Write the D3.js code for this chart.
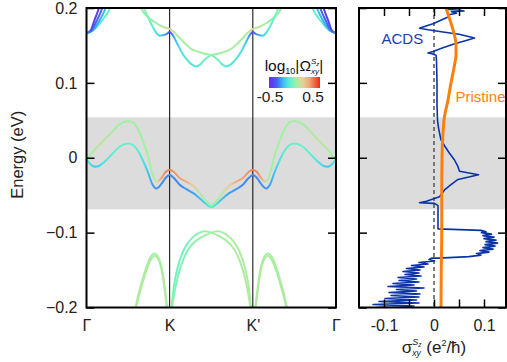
<!DOCTYPE html>
<html><head><meta charset="utf-8">
<script src="https://cdn.jsdelivr.net/npm/d3@7"></script>
<style>body{margin:0;background:#fff}svg{display:block;font-family:"Liberation Sans",Arial,sans-serif}</style>
</head><body><svg id="c" width="507" height="362"></svg>
<script>
// ---------------- DATA ----------------
const kTicks = [0, 1, 2, 3];
const kLabels = ["Γ", "K", "K'", "Γ"];
const energyTicks = [-0.2, -0.1, 0, 0.1, 0.2];
const sigmaTicks = [-0.1, -0.05, 0, 0.05, 0.1];
const sigmaLabels = {"-0.1": "-0.1", "0": "0", "0.1": "0.1"};
const gapWindow = [-0.069, 0.054];
const cbarTicks = [-0.5, 0.5];

// bands: [k, E (eV), log10|Omega|]
const bandG1 = [[0,0.1665,-0.25],[0.05,0.170,-0.4],[0.09,0.182,-0.45],[0.15,0.200,-0.45],[0.2,0.22,-0.45]];
const bandG2 = [[0,0.1665,-0.25],[0.06,0.170,-0.32],[0.118,0.182,-0.35],[0.19,0.200,-0.35],[0.24,0.22,-0.35]];
const bandG3 = [[0,0.1665,-0.25],[0.07,0.170,-0.25],[0.15,0.182,-0.25],[0.231,0.200,-0.22],[0.29,0.22,-0.22]];
const bandG4 = [[0,0.1665,-0.22],[0.08,0.170,-0.15],[0.178,0.182,-0.1],[0.283,0.200,-0.08],[0.34,0.22,-0.08]];
const bandH1 = [[2.8,0.22,-0.45],[2.85,0.200,-0.45],[2.91,0.182,-0.45],[2.95,0.170,-0.4],[3,0.1665,-0.25]];
const bandH2 = [[2.76,0.22,-0.35],[2.81,0.200,-0.35],[2.882,0.182,-0.35],[2.94,0.170,-0.32],[3,0.1665,-0.25]];
const bandH3 = [[2.71,0.22,-0.22],[2.769,0.200,-0.22],[2.85,0.182,-0.25],[2.93,0.170,-0.25],[3,0.1665,-0.25]];
const bandH4 = [[2.66,0.22,-0.08],[2.717,0.200,-0.08],[2.822,0.182,-0.1],[2.92,0.170,-0.15],[3,0.1665,-0.22]];

const bandCA = [[0.64,0.21,0.0],[0.66,0.2,0.0],[0.72,0.19,0.0],[0.76,0.186,0.0],[0.82,0.181,0.02],[0.88,0.177,0.05],[0.94,0.174,0.1],[1.0,0.172,0.17],[1.06,0.167,0.08],[1.12,0.16,0.05],[1.2,0.151,0.05],[1.28,0.144,0.05],[1.36,0.141,0.05],[1.42,0.139,0.03],[1.5,0.137,0.0],[1.58,0.131,-0.06],[1.64,0.124,-0.1],[1.68,0.122,-0.12],[1.74,0.125,-0.12],[1.8,0.132,-0.12],[1.86,0.142,-0.14],[1.92,0.155,-0.2],[1.97,0.165,-0.32],[2.0,0.168,-0.42],[2.04,0.165,-0.28],[2.12,0.163,-0.18],[2.18,0.17,-0.12],[2.24,0.183,-0.06],[2.3,0.198,0.0],[2.34,0.21,0.0]];
const bandCB = [[0.66,0.21,0.0],[0.70,0.198,0.0],[0.76,0.183,-0.06],[0.82,0.17,-0.12],[0.88,0.163,-0.18],[0.96,0.165,-0.28],[1.0,0.168,-0.42],[1.03,0.165,-0.32],[1.08,0.155,-0.2],[1.14,0.142,-0.14],[1.2,0.132,-0.12],[1.26,0.125,-0.12],[1.32,0.122,-0.12],[1.36,0.124,-0.1],[1.42,0.131,-0.06],[1.5,0.137,0.0],[1.58,0.139,0.03],[1.64,0.141,0.05],[1.72,0.144,0.05],[1.8,0.151,0.05],[1.88,0.16,0.05],[1.94,0.167,0.08],[2.0,0.172,0.17],[2.06,0.174,0.1],[2.12,0.177,0.05],[2.18,0.181,0.02],[2.24,0.186,0.0],[2.28,0.19,0.0],[2.34,0.2,0.0],[2.36,0.21,0.0]];

const bandVB = [[0,-0.002,-0.12],[0.05,-0.009,-0.16],[0.1,-0.012,-0.2],[0.15,-0.011,-0.18],[0.2,-0.007,-0.14],[0.3,0.004,-0.1],[0.4,0.015,-0.07],[0.5,0.019,-0.07],[0.56,0.017,-0.07],[0.62,0.009,-0.1],[0.68,-0.004,-0.14],[0.74,-0.02,-0.2],[0.79,-0.035,-0.26],[0.84,-0.041,-0.28],[0.9,-0.035,-0.28],[0.95,-0.027,-0.3],[1.0,-0.023,-0.3],[1.05,-0.027,-0.3],[1.12,-0.036,-0.3],[1.2,-0.042,-0.28],[1.28,-0.047,-0.26],[1.36,-0.054,-0.22],[1.44,-0.062,-0.15],[1.5,-0.066,-0.1],[1.56,-0.062,-0.15],[1.64,-0.054,-0.22],[1.72,-0.047,-0.26],[1.8,-0.042,-0.28],[1.88,-0.036,-0.3],[1.95,-0.027,-0.3],[2.0,-0.023,-0.3],[2.05,-0.027,-0.3],[2.1,-0.035,-0.28],[2.16,-0.041,-0.28],[2.21,-0.035,-0.26],[2.26,-0.02,-0.2],[2.32,-0.004,-0.14],[2.38,0.009,-0.1],[2.44,0.017,-0.07],[2.5,0.019,-0.07],[2.6,0.015,-0.07],[2.7,0.004,-0.1],[2.8,-0.007,-0.14],[2.85,-0.011,-0.18],[2.9,-0.012,-0.2],[2.95,-0.009,-0.16],[3.0,-0.002,-0.12]];
const bandVA = [[0,-0.002,-0.02],[0.05,0.004,0.04],[0.1,0.011,0.07],[0.2,0.022,0.09],[0.3,0.034,0.07],[0.4,0.045,0.04],[0.5,0.049,0.04],[0.56,0.047,0.04],[0.62,0.038,0.04],[0.68,0.022,0.04],[0.74,0.002,0.04],[0.78,-0.016,0.05],[0.82,-0.029,0.08],[0.85,-0.032,0.14],[0.9,-0.027,0.3],[0.95,-0.019,0.34],[1.0,-0.016,0.35],[1.05,-0.019,0.33],[1.12,-0.027,0.3],[1.2,-0.032,0.27],[1.28,-0.037,0.18],[1.36,-0.047,0.09],[1.44,-0.058,0.04],[1.5,-0.064,0.0],[1.56,-0.058,0.04],[1.64,-0.047,0.09],[1.72,-0.037,0.18],[1.8,-0.032,0.27],[1.88,-0.027,0.3],[1.95,-0.019,0.33],[2.0,-0.016,0.35],[2.05,-0.019,0.34],[2.1,-0.027,0.3],[2.15,-0.032,0.14],[2.18,-0.029,0.08],[2.22,-0.016,0.05],[2.26,0.002,0.04],[2.32,0.022,0.04],[2.38,0.038,0.04],[2.44,0.047,0.04],[2.5,0.049,0.04],[2.6,0.045,0.04],[2.7,0.034,0.07],[2.8,0.022,0.09],[2.9,0.011,0.07],[2.95,0.004,0.04],[3.0,-0.002,-0.02]];

const bandL1 = [[0.58,-0.205,0.05],[0.62,-0.185,0.05],[0.68,-0.16,0.05],[0.74,-0.14,0.05],[0.78,-0.131,0.05],[0.82,-0.128,0.04],[0.86,-0.132,0.04],[0.9,-0.145,0.05],[0.94,-0.172,0.05],[0.97,-0.2,0.05],[0.98,-0.21,0.05]];
const bandL2 = [[0.585,-0.205,0.07],[0.625,-0.187,0.07],[0.685,-0.163,0.07],[0.745,-0.143,0.06],[0.785,-0.134,0.06],[0.82,-0.131,0.06],[0.86,-0.135,0.06],[0.9,-0.148,0.07],[0.94,-0.176,0.07],[0.965,-0.2,0.07],[0.975,-0.21,0.07]];
const bandR1 = [[2.02,-0.21,0.05],[2.03,-0.2,0.05],[2.06,-0.172,0.05],[2.1,-0.145,0.05],[2.14,-0.132,0.04],[2.18,-0.128,0.04],[2.22,-0.131,0.05],[2.26,-0.14,0.05],[2.32,-0.16,0.05],[2.38,-0.185,0.05],[2.42,-0.205,0.05]];
const bandR2 = [[2.025,-0.21,0.07],[2.035,-0.2,0.07],[2.06,-0.176,0.07],[2.1,-0.148,0.07],[2.14,-0.135,0.06],[2.18,-0.131,0.06],[2.215,-0.134,0.06],[2.255,-0.143,0.06],[2.315,-0.163,0.07],[2.375,-0.187,0.07],[2.415,-0.205,0.07]];
const bandM1 = [[1.0,-0.21,0.0],[1.02,-0.2,-0.02],[1.05,-0.172,-0.04],[1.1,-0.145,-0.05],[1.15,-0.128,-0.05],[1.2,-0.117,-0.04],[1.28,-0.106,-0.02],[1.36,-0.1,0.0],[1.42,-0.098,0.02],[1.5,-0.1,0.03],[1.58,-0.104,0.04],[1.66,-0.109,0.05],[1.74,-0.117,0.06],[1.8,-0.127,0.07],[1.85,-0.14,0.07],[1.9,-0.158,0.07],[1.95,-0.185,0.07],[1.97,-0.2,0.07],[1.98,-0.21,0.07]];
const bandM2 = [[1.02,-0.21,0.02],[1.03,-0.2,0.02],[1.05,-0.185,0.0],[1.1,-0.158,-0.02],[1.15,-0.14,-0.03],[1.2,-0.127,-0.02],[1.26,-0.117,0.0],[1.34,-0.109,0.02],[1.42,-0.104,0.03],[1.5,-0.1,0.04],[1.58,-0.098,0.05],[1.64,-0.1,0.05],[1.72,-0.106,0.06],[1.8,-0.117,0.06],[1.85,-0.128,0.06],[1.9,-0.145,0.06],[1.95,-0.172,0.06],[1.98,-0.2,0.06],[2.0,-0.21,0.06]];

const bands = [bandL1,bandL2,bandR1,bandR2,bandM1,bandM2,bandVB,bandVA,bandG4,bandG3,bandG2,bandG1,bandH4,bandH3,bandH2,bandH1,bandCB,bandCA];

// spin Hall conductivity: [sigma, E]
const pristine = [[0.024,0.2],[0.031,0.186],[0.038,0.171],[0.044,0.151],[0.044,0.137],[0.041,0.124],[0.034,0.1],[0.028,0.077],[0.021,0.055],[0.018,0.033],[0.016,0.0],[0.0155,-0.05],[0.0155,-0.1],[0.0145,-0.15],[0.014,-0.2]];
const acds = [[0.026,0.200],[0.030,0.198],[0.052,0.197],[0.060,0.196],[0.035,0.195],[0.045,0.193],[0.030,0.191],[0.028,0.188],[0.018,0.185],[-0.002,0.179],[-0.025,0.174],[-0.029,0.173],[-0.012,0.171],[0.018,0.168],[0.050,0.165],[0.075,0.161],[0.081,0.160],[0.066,0.157],[0.040,0.152],[0.018,0.147],[-0.002,0.142],[-0.012,0.140],[-0.004,0.139],[0.004,0.137],[0.005,0.130],[0.006,0.100],[0.006,0.070],[0.007,0.050],[0.009,0.040],[0.012,0.030],[0.014,0.024],[0.022,0.015],[0.031,0.006],[0.041,-0.003],[0.048,-0.012],[0.051,-0.018],[0.089,-0.0227],[0.048,-0.029],[0.034,-0.036],[0.021,-0.043],[0.011,-0.052],[-0.015,-0.058],[-0.029,-0.060],[0.001,-0.061],[0.008,-0.064],[0.008,-0.095],[0.094,-0.097],[0.104,-0.099],
[0.095,-0.100],[0.115,-0.102],[0.098,-0.104],[0.120,-0.106],[0.100,-0.108],[0.124,-0.110],[0.104,-0.112],[0.127,-0.114],[0.102,-0.116],[0.122,-0.118],[0.098,-0.120],[0.118,-0.122],[0.092,-0.124],[0.110,-0.126],[0.085,-0.128],[0.094,-0.130],[0.070,-0.132],[0.040,-0.133],[0.010,-0.134],[-0.004,-0.134],
[-0.010,-0.136],[0.001,-0.138],[-0.030,-0.140],[-0.012,-0.142],[-0.045,-0.144],[-0.020,-0.146],[-0.055,-0.148],[-0.028,-0.150],[-0.062,-0.152],[-0.030,-0.154],[-0.058,-0.156],[-0.026,-0.158],[-0.072,-0.160],[-0.035,-0.162],[-0.070,-0.164],[-0.030,-0.166],[-0.082,-0.168],[-0.040,-0.170],[-0.092,-0.172],[-0.020,-0.174],[-0.075,-0.176],[-0.035,-0.178],[-0.090,-0.180],[-0.028,-0.182],[-0.086,-0.184],[-0.030,-0.186],[-0.098,-0.188],[-0.035,-0.190],[-0.110,-0.192],[-0.030,-0.194],[-0.122,-0.196],[-0.040,-0.198],[-0.115,-0.200]];

// ---------------- DRAW ----------------
const svg = d3.select("#c");
const defs = svg.append("defs");
const FONT = 16;
const x = d3.scaleLinear().domain([0, 3]).range([86.5, 336]);
const y = d3.scaleLinear().domain([-0.2, 0.2]).range([307.5, 8]);
const xs = d3.scaleLinear().domain([-0.15, 0.144]).range([359, 506]);
const cmap = d3.scaleLinear()
  .domain([-0.5,-0.36,-0.19,-0.09,0.04,0.17,0.3,0.5])
  .range(["#7028f0","#4060f0","#40cff0","#5ef0d0","#a0f2a0","#e8d09a","#f0a070","#f02810"]);

defs.append("clipPath").attr("id","clipL").append("rect")
  .attr("x",x(0)).attr("y",y(0.2)).attr("width",x(3)-x(0)).attr("height",y(-0.2)-y(0.2));
defs.append("clipPath").attr("id","clipR").append("rect")
  .attr("x",xs(-0.15)).attr("y",y(0.2)).attr("width",xs(0.144)-xs(-0.15)).attr("height",y(-0.2)-y(0.2));

// ---- left panel
const gL = svg.append("g");
gL.append("rect").attr("x",x(0)).attr("width",x(3)-x(0))
  .attr("y",y(gapWindow[1])).attr("height",y(gapWindow[0])-y(gapWindow[1])).attr("fill","#dcdcdc");
gL.selectAll("line.kv").data([1,2]).join("line").attr("class","kv")
  .attr("x1",d=>x(d)).attr("x2",d=>x(d)).attr("y1",y(0.2)).attr("y2",y(-0.2))
  .attr("stroke","#000").attr("stroke-width",1);

const bandLine = d3.line().x(d=>x(d[0])).y(d=>y(d[1])).curve(d3.curveMonotoneX);
const bandG = gL.append("g").attr("clip-path","url(#clipL)");
bands.forEach((b,i)=>{
  const k0=b[0][0], k1=b[b.length-1][0];
  const grad = defs.append("linearGradient").attr("id","bg"+i)
    .attr("gradientUnits","userSpaceOnUse").attr("x1",x(k0)).attr("x2",x(k1)).attr("y1",0).attr("y2",0);
  b.forEach(p=>grad.append("stop").attr("offset",(p[0]-k0)/(k1-k0)).attr("stop-color",cmap(p[2])));
  bandG.append("path").attr("d",bandLine(b)).attr("fill","none")
    .attr("stroke","url(#bg"+i+")").attr("stroke-width",2);
});

function styleAxis(g){
  g.select(".domain").remove();
  g.selectAll(".tick line").attr("stroke","#000").attr("stroke-width",1.5);
  g.selectAll(".tick text").attr("font-size",FONT).attr("fill","#222").attr("font-family",'"Liberation Sans",Arial,sans-serif');
}
const fmtE = d => d3.format("")(+d.toFixed(2));
gL.append("g").attr("transform",`translate(${x(0)},0)`)
  .call(d3.axisLeft(y).tickValues(energyTicks).tickSizeInner(-8).tickSizeOuter(0).tickPadding(9).tickFormat(fmtE))
  .call(styleAxis);
gL.append("g").attr("transform",`translate(${x(3)},0)`)
  .call(d3.axisRight(y).tickValues(energyTicks).tickSizeInner(-8).tickSizeOuter(0).tickFormat(""))
  .call(styleAxis);
gL.append("g").attr("transform",`translate(0,${y(-0.2)})`)
  .call(d3.axisBottom(x).tickValues(kTicks).tickSize(0).tickPadding(12).tickFormat((d,i)=>kLabels[i]))
  .call(styleAxis);
gL.append("rect").attr("x",x(0)).attr("y",y(0.2)).attr("width",x(3)-x(0)).attr("height",y(-0.2)-y(0.2))
  .attr("fill","none").attr("stroke","#000").attr("stroke-width",2);

svg.append("text").attr("transform",`translate(23,${(y(0.2)+y(-0.2))/2 - 3}) rotate(-90)`)
  .attr("text-anchor","middle").attr("font-size",16.5).attr("fill","#222").text("Energy (eV)");

// ---- rich text helper
function rich(parent, cx, by, parts, color){
  const g = parent.append("g");
  let cursor = 0; const groups = {};
  parts.forEach(p=>{
    let px;
    if(p.g){
      if(!groups[p.g]) groups[p.g] = {start:cursor, rows:{}};
      const G = groups[p.g];
      if(G.rows[p.row]===undefined) G.rows[p.row]=G.start;
      px = G.rows[p.row];
    } else px = cursor;
    const t = g.append("text").attr("x",px).attr("y",by+(p.dy||0)).attr("font-size",p.s)
      .attr("fill",color).attr("font-style",p.it?"italic":"normal").style("white-space","pre").text(p.t);
    const w = t.node().getComputedTextLength();
    if(p.g){ groups[p.g].rows[p.row] = px+w; cursor = Math.max(cursor, px+w); }
    else cursor = px + w;
  });
  g.attr("transform",`translate(${cx-cursor/2},0)`);
  return g;
}

// colorbar
const cb = {x0:269, x1:320, y0:77, y1:88};
const cg = defs.append("linearGradient").attr("id","cbar").attr("x1","0").attr("x2","1").attr("y1","0").attr("y2","0");
d3.range(0,1.0001,0.05).forEach(t=>cg.append("stop").attr("offset",t).attr("stop-color",cmap(-0.5+t)));
const cbs = d3.scaleLinear().domain(cbarTicks).range([cb.x0+1, cb.x1-7]);
svg.append("rect").attr("x",cb.x0).attr("y",cb.y0).attr("width",cb.x1-cb.x0).attr("height",cb.y1-cb.y0).attr("fill","url(#cbar)");
svg.selectAll("text.cbt").data(cbarTicks).join("text").attr("class","cbt")
  .attr("x",d=>cbs(d)).attr("y",101.5).attr("text-anchor","middle").attr("font-size",15.5).attr("fill","#222")
  .text(d=>d3.format(".1f")(d).replace("−","-"));
rich(svg, 294, 71, [
  {t:"log",s:15.5},{t:"10",s:9,dy:3},{t:"|Ω",s:15.5},
  {t:"S",s:8,dy:-7,it:true,g:"a",row:0},{t:"z",s:6,dy:-5,it:true,g:"a",row:0},
  {t:"xy",s:8,dy:3,it:true,g:"a",row:1},{t:"|",s:15.5}
], "#111");

// ---- right panel
const gR = svg.append("g");
gR.append("rect").attr("x",xs(-0.15)).attr("width",xs(0.144)-xs(-0.15))
  .attr("y",y(gapWindow[1])).attr("height",y(gapWindow[0])-y(gapWindow[1])).attr("fill","#dcdcdc");
gR.append("line").attr("x1",xs(0)).attr("x2",xs(0)).attr("y1",y(0.2)).attr("y2",y(-0.2))
  .attr("stroke","#555").attr("stroke-width",1.5).attr("stroke-dasharray","4,3");
const sLine = d3.line().x(d=>xs(d[0])).y(d=>y(d[1]));
const pc = gR.append("g").attr("clip-path","url(#clipR)");
pc.append("path").attr("d",sLine(acds)).attr("fill","none").attr("stroke","#0b33a8").attr("stroke-width",1.6).attr("stroke-linejoin","round");
pc.append("path").attr("d",sLine.curve(d3.curveMonotoneY)(pristine)).attr("fill","none").attr("stroke","#ff7f0e").attr("stroke-width",3);

gR.append("g").attr("transform",`translate(${xs(-0.15)},0)`)
  .call(d3.axisLeft(y).tickValues(energyTicks).tickSizeInner(-8).tickSizeOuter(0).tickFormat("")).call(styleAxis);
gR.append("g").attr("transform",`translate(${xs(0.144)},0)`)
  .call(d3.axisRight(y).tickValues(energyTicks).tickSizeInner(-8).tickSizeOuter(0).tickFormat("")).call(styleAxis);
gR.append("g").attr("transform",`translate(0,${y(-0.2)})`)
  .call(d3.axisBottom(xs).tickValues(sigmaTicks).tickSizeInner(-8).tickSizeOuter(0).tickPadding(12)
    .tickFormat(d=>sigmaLabels[String(+d.toFixed(2))]||"")).call(styleAxis);
gR.append("g").attr("transform",`translate(0,${y(0.2)})`)
  .call(d3.axisTop(xs).tickValues(sigmaTicks).tickSizeInner(-8).tickSizeOuter(0).tickFormat("")).call(styleAxis);
gR.append("rect").attr("x",xs(-0.15)).attr("y",y(0.2)).attr("width",xs(0.144)-xs(-0.15)).attr("height",y(-0.2)-y(0.2))
  .attr("fill","none").attr("stroke","#000").attr("stroke-width",2);

svg.append("text").attr("x",381.5).attr("y",43.5).attr("font-size",15).attr("fill","#1a3db5").text("ACDS");
svg.append("text").attr("x",455.5).attr("y",101.5).attr("font-size",15).attr("fill","#ff7f0e").text("Pristine");

rich(svg, 434, 353, [
  {t:"σ",s:17},
  {t:"S",s:9,dy:-8,it:true,g:"b",row:0},{t:"z",s:6.5,dy:-6,it:true,g:"b",row:0},
  {t:"xy",s:8.5,dy:3,it:true,g:"b",row:1},
  {t:"\u00a0(e",s:17},{t:"2",s:9,dy:-7},{t:"/ħ)",s:17}
], "#222");
</script></body></html>
